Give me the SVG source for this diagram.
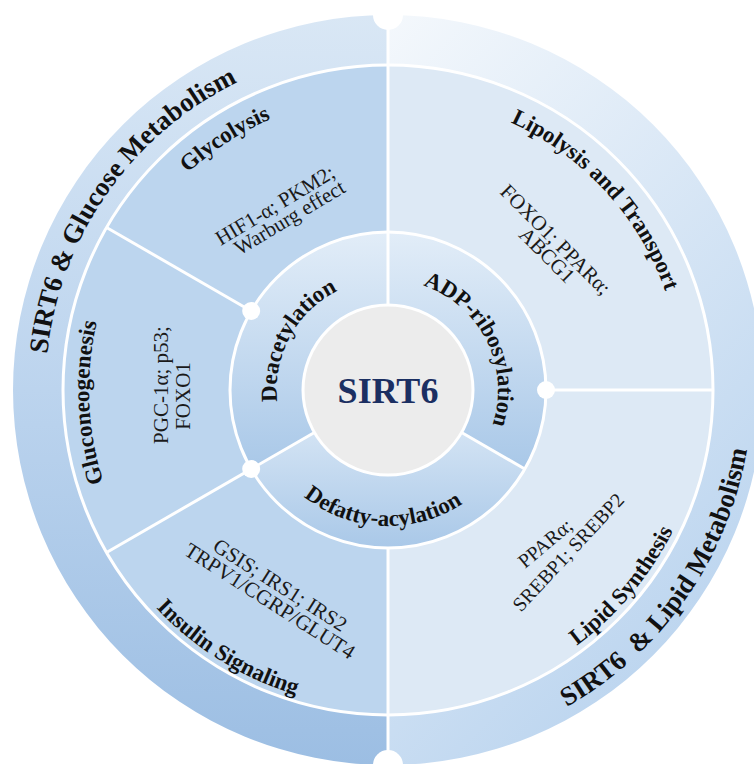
<svg xmlns="http://www.w3.org/2000/svg" width="754" height="764" viewBox="0 0 754 764">
  <defs>
    <linearGradient id="gOuterL" x1="0" y1="0" x2="0" y2="1">
      <stop offset="0" stop-color="#d9e7f5"/>
      <stop offset="0.5" stop-color="#bcd4ee"/>
      <stop offset="1" stop-color="#9cbee3"/>
    </linearGradient>
    <linearGradient id="gOuterR" x1="0" y1="0" x2="0.5" y2="1">
      <stop offset="0" stop-color="#f4f8fc"/>
      <stop offset="1" stop-color="#bcd5ef"/>
    </linearGradient>
    <linearGradient id="gMid" x1="0" y1="0" x2="0" y2="1">
      <stop offset="0" stop-color="#e2edf8"/>
      <stop offset="1" stop-color="#a9c8e8"/>
    </linearGradient>
    <!-- baselines for curved labels (centre 388,390) -->
    <path id="pGluc" d="M167.5,652.7 A343,343 0 0 1 559.5,93.0"/>
    <path id="pLipid" d="M206,705.2 A364,364 0 0 0 622.0,111.2"/>
    <path id="pGlyco" d="M127.5,528.5 A295,295 0 0 1 620.5,208.4"/>
    <path id="pGluco" d="M374.4,688.7 A299,299 0 0 1 349.5,93.5"/>
    <path id="pInsul" d="M104.1,246.6 A318,318 0 0 0 642.6,580.5"/>
    <path id="pLipoly" d="M209.0,156.7 A294,294 0 0 1 604.8,588.6"/>
    <path id="pLipSyn" d="M206.1,650.8 A318,318 0 0 0 612.5,164.8"/>
    <path id="pDeac" d="M326.7,482.6 A111,111 0 0 1 432.3,288.2"/>
    <path id="pADP" d="M347.5,287.7 A110,110 0 0 1 445.6,483.7"/>
    <path id="pDefat" d="M252.1,395.9 A136,136 0 0 0 522.8,407.7"/>
  </defs>
  <style>
    .lbl{font-family:"Liberation Serif","Times New Roman",serif;font-weight:bold;font-size:23px;fill:#111;text-anchor:middle}
    .big{font-size:27px}
    .gene{font-family:"Liberation Serif","Times New Roman",serif;font-size:21px;fill:#1a1a1a;text-anchor:middle}
    .small{font-size:20px}
    .div{stroke:#fff;stroke-width:3;fill:none}
    .dot{fill:#fff}
  </style>

  <rect width="754" height="764" fill="#fff"/>

  <!-- outer ring -->
  <g id="glucose-metabolism">
    <path d="M388,15 A375,375 0 0 0 388,765 L388,715 A325,325 0 0 1 388,65 Z" fill="url(#gOuterL)"/>
    <text class="lbl big"><textPath href="#pGluc" startOffset="50%">SIRT6 &amp; Glucose Metabolism</textPath></text>
  </g>
  <g id="lipid-metabolism">
    <path d="M388,15 A375,375 0 0 1 388,765 L388,715 A325,325 0 0 0 388,65 Z" fill="url(#gOuterR)"/>
    <text class="lbl big"><textPath href="#pLipid" startOffset="50%">SIRT6&#160; &amp; Lipid Metabolism</textPath></text>
  </g>

  <!-- third ring -->
  <path d="M388,65 A325,325 0 0 0 388,715 Z" fill="#bcd5ee"/>
  <path d="M388,65 A325,325 0 0 1 388,715 Z" fill="#dde9f5"/>

  <g id="glycolysis">
    <text class="lbl"><textPath href="#pGlyco" startOffset="50%">Glycolysis</textPath></text>
    <g transform="translate(282,211) rotate(-31)">
      <text class="gene" x="-3" y="-1.5">HIF1-α; PKM2;</text>
      <text class="gene" x="3" y="16.5">Warburg effect</text>
    </g>
  </g>
  <g id="gluconeogenesis">
    <text class="lbl"><textPath href="#pGluco" startOffset="50%">Gluconeogenesis</textPath></text>
    <g transform="translate(174,390) rotate(-90)">
      <text class="gene" x="5" y="-6">PGC-1α; p53;</text>
      <text class="gene" x="-6" y="16">FOXO1</text>
    </g>
  </g>
  <g id="insulin-signaling">
    <text class="lbl"><textPath href="#pInsul" startOffset="50%">Insulin Signaling</textPath></text>
    <g transform="translate(275,593) rotate(32.5)">
      <text class="gene" x="0" y="-2.5">GSIS; IRS1; IRS2</text>
      <text class="gene" x="0" y="16.5">TRPV1/CGRP/GLUT4</text>
    </g>
  </g>
  <g id="lipolysis-transport">
    <text class="lbl"><textPath href="#pLipoly" startOffset="50%">Lipolysis and Transport</textPath></text>
    <g transform="translate(551,247) rotate(45)">
      <text class="gene" x="-2" y="-1.5">FOXO1; PPARα;</text>
      <text class="gene" x="3" y="15.5">ABCG1</text>
    </g>
  </g>
  <g id="lipid-synthesis">
    <text class="lbl"><textPath href="#pLipSyn" startOffset="50%">Lipid Synthesis</textPath></text>
    <text class="gene small" transform="translate(549.5,548.4) rotate(-40)">PPARα;</text>
    <text class="gene small" transform="translate(573.1,556.8) rotate(-47)">SREBP1; SREBP2</text>
  </g>

  <!-- middle ring -->
  <g id="deacetylation">
    <path d="M388,390 L388,232 A158,158 0 0 0 251.17,469 Z" fill="url(#gMid)"/>
    <text class="lbl"><textPath href="#pDeac" startOffset="50%">Deacetylation</textPath></text>
  </g>
  <g id="adp-ribosylation">
    <path d="M388,390 L388,232 A158,158 0 0 1 524.83,469 Z" fill="url(#gMid)"/>
    <text class="lbl"><textPath href="#pADP" startOffset="50%">ADP-ribosylation</textPath></text>
  </g>
  <g id="defatty-acylation">
    <path d="M388,390 L524.83,469 A158,158 0 0 1 251.17,469 Z" fill="url(#gMid)"/>
    <text class="lbl"><textPath href="#pDefat" startOffset="50%">Defatty-acylation</textPath></text>
  </g>

  <!-- dividers -->
  <g id="connectors">
    <circle class="div" cx="388" cy="390" r="158"/>
    <circle class="div" cx="388" cy="390" r="325"/>
    <line class="div" x1="388" y1="305" x2="388" y2="15"/>
    <line class="div" x1="388" y1="548" x2="388" y2="765"/>
    <line class="div" x1="251.17" y1="311" x2="106.54" y2="227.5"/>
    <line class="div" x1="314.4" y1="432.5" x2="106.54" y2="552.5"/>
    <line class="div" x1="546" y1="390" x2="713" y2="390"/>
    <line class="div" x1="461.6" y1="432.5" x2="524.83" y2="469"/>
    <circle class="dot" cx="251.17" cy="311" r="9"/>
    <circle class="dot" cx="251.17" cy="469" r="9"/>
    <circle class="dot" cx="546" cy="390" r="9"/>
    <circle class="dot" cx="388" cy="15" r="15"/>
    <circle class="dot" cx="388" cy="765" r="15"/>
  </g>

  <!-- core -->
  <g id="sirt6">
    <circle cx="388" cy="390" r="85" fill="#ececec" stroke="#fff" stroke-width="3"/>
    <text x="388" y="403" text-anchor="middle" font-family="Liberation Serif, Times New Roman, serif" font-weight="bold" font-size="36" fill="#1b2f62">SIRT6</text>
  </g>
</svg>
